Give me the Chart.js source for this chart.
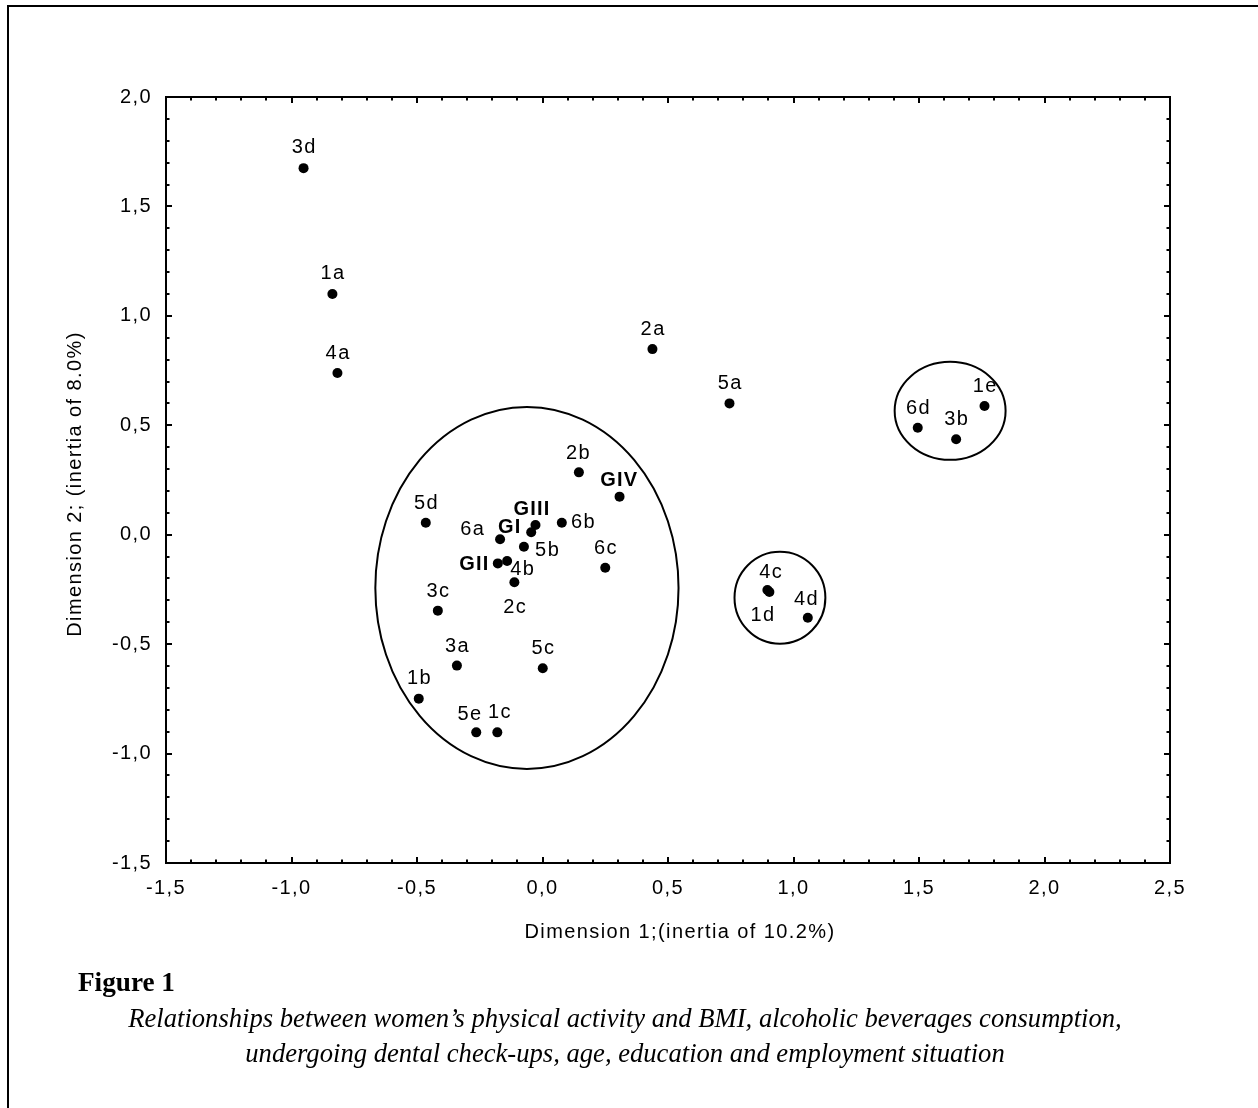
<!DOCTYPE html>
<html>
<head>
<meta charset="utf-8">
<script src="https://cdn.jsdelivr.net/npm/chart.js@4.4.1/dist/chart.umd.min.js"></script>
<style>
html,body{margin:0;padding:0;background:#fff;}
body{width:1258px;height:1108px;position:relative;overflow:hidden;}
#frame{position:absolute;left:7px;top:5px;width:1300px;height:1200px;border-left:2px solid #000;border-top:2px solid #000;box-sizing:border-box;}
#c{position:absolute;left:0;top:0;}
.txt{position:absolute;white-space:nowrap;line-height:1;color:#000;font-family:"Liberation Serif","Times New Roman",serif;}
#figTitle{font-weight:bold;}
.capLine{font-style:italic;}
</style>
</head>
<body>
<div id="frame"></div>
<canvas id="c" width="1258" height="1108"></canvas>
<div id="figTitle" class="txt">Figure 1</div>
<div id="cap1" class="txt capLine">Relationships between women’s physical activity and BMI, alcoholic beverages consumption,</div>
<div id="cap2" class="txt capLine">undergoing dental check-ups, age, education and employment situation</div>
<script>
// ---------------- DATA ----------------
const pointNames = ['3d','1a','4a','2a','5a','6d','3b','1e','4c','1d','4d','2b','GIV','5d','GIII','GI','6b','6a','5b','GII','4b','2c','6c','3c','3a','5c','1b','5e','1c'];
const dim1 = [-0.952,-0.837,-0.817,0.438,0.745,1.495,1.648,1.761,0.896,0.904,1.057,0.145,0.307,-0.465,-0.028,-0.045,0.077,-0.169,-0.074,-0.178,-0.141,-0.112,0.250,-0.417,-0.341,0.001,-0.493,-0.264,-0.180];
const dim2 = [1.675,1.100,0.739,0.848,0.600,0.489,0.436,0.588,-0.253,-0.262,-0.379,0.285,0.174,0.055,0.044,0.011,0.055,-0.021,-0.055,-0.131,-0.120,-0.217,-0.151,-0.347,-0.598,-0.610,-0.749,-0.903,-0.903];

const xTicks = [-1.5,-1.0,-0.5,0.0,0.5,1.0,1.5,2.0,2.5];
const yTicks = [-1.5,-1.0,-0.5,0.0,0.5,1.0,1.5,2.0];

// grouping ellipses (data units)
const groupCenterX = [-0.062, 1.624, 0.946];
const groupCenterY = [-0.243, 0.566, -0.288];
const groupRadiusX = [0.604, 0.221, 0.181];
const groupRadiusY = [0.827, 0.224, 0.210];

const xTitle = 'Dimension 1;(inertia of 10.2%)';
const yTitle = 'Dimension 2; (inertia of 8.0%)';

// ---------------- STYLE ----------------
const SANS = '"Liberation Sans", Arial, sans-serif';
const FS = 20, SP = 1.4;
const labelOffsets = {
  _default:[0,-21], '3d':[0,-22], '1a':[0,-22], '2b':[-1,-20], 'GIV':[-1,-18], 'GIII':[-4,-17],
  '6a':[-28,-11], 'GI':[-22,-6], '6b':[21,-2], '5b':[23,2], 'GII':[-24,0], '4b':[15,7],
  '2c':[0,24], '5e':[-7,-19], '1c':[2,-21], '4c':[3,-19], '1d':[-7,22], '4d':[-2,-20], '1b':[0,-22]
};

const fmt = v => (Math.round(v*10)/10).toFixed(1).replace('.', ',');

const decorPlugin = {
  id:'decor',
  beforeDraw(chart){ chart.ctx.letterSpacing = SP + 'px'; },
  beforeDatasetsDraw(chart){
    const ctx = chart.ctx, a = chart.chartArea, xs = chart.scales.x, ys = chart.scales.y;
    ctx.save();
    ctx.strokeStyle = '#000';
    ctx.lineWidth = 2;
    for (let i=0;i<groupCenterX.length;i++){
      const cx = xs.getPixelForValue(groupCenterX[i]);
      const cy = ys.getPixelForValue(groupCenterY[i]);
      const rx = Math.abs(xs.getPixelForValue(groupCenterX[i]+groupRadiusX[i]) - cx);
      const ry = Math.abs(ys.getPixelForValue(groupCenterY[i]+groupRadiusY[i]) - cy);
      ctx.beginPath(); ctx.ellipse(cx, cy, rx, ry, 0, 0, Math.PI*2); ctx.stroke();
    }
    ctx.strokeRect(a.left, a.top, a.right-a.left, a.bottom-a.top);
    const xMin = xs.min, xMax = xs.max, yMin = ys.min, yMax = ys.max;
    const nx = Math.round((xMax-xMin)/0.1), ny = Math.round((yMax-yMin)/0.1);
    ctx.beginPath();
    for (let k=1;k<nx;k++){
      const px = Math.round(xs.getPixelForValue(xMin + k*0.1));
      const L = (k%5===0) ? 6 : 3.5;
      ctx.moveTo(px, a.bottom); ctx.lineTo(px, a.bottom - L);
      ctx.moveTo(px, a.top); ctx.lineTo(px, a.top + L);
    }
    for (let k=1;k<ny;k++){
      const py = Math.round(ys.getPixelForValue(yMin + k*0.1));
      const L = (k%5===0) ? 6 : 3.5;
      ctx.moveTo(a.left, py); ctx.lineTo(a.left + L, py);
      ctx.moveTo(a.right, py); ctx.lineTo(a.right - L, py);
    }
    ctx.stroke();
    ctx.restore();
  },
  afterDatasetsDraw(chart){
    const ctx = chart.ctx;
    const meta = chart.getDatasetMeta(0);
    ctx.save();
    ctx.fillStyle = '#000';
    ctx.textAlign = 'center';
    ctx.textBaseline = 'alphabetic';
    meta.data.forEach((pt, i) => {
      const name = pointNames[i];
      const bold = name[0] === 'G';
      const sp = bold ? 1.2 : SP;
      ctx.font = (bold ? 'bold ' : '') + FS + 'px ' + SANS;
      ctx.letterSpacing = sp + 'px';
      const off = labelOffsets[name] || labelOffsets._default;
      ctx.fillText(name, pt.x + off[0] + sp/2, pt.y + off[1] + 7);
    });
    const a = chart.chartArea;
    ctx.font = FS + 'px ' + SANS;
    ctx.letterSpacing = SP + 'px';
    ctx.fillText(xTitle, (a.left + a.right)/2 + 12, 938);
    ctx.save();
    ctx.translate(81, (a.top + a.bottom)/2 + 4);
    ctx.rotate(-Math.PI/2);
    ctx.fillText(yTitle, 0, 0);
    ctx.restore();
    ctx.restore();
  }
};

new Chart(document.getElementById('c'), {
  type:'scatter',
  data:{
    datasets:[{
      data: dim1.map((x,i)=>({x:x, y:dim2[i]})),
      backgroundColor:'#000',
      borderColor:'#000',
      borderWidth:0,
      pointRadius:5,
      pointHoverRadius:5
    }]
  },
  options:{
    responsive:false,
    devicePixelRatio:1,
    animation:false,
    events:[],
    layout:{padding:{left:0, top:97, right:88, bottom:205}},
    plugins:{legend:{display:false}, tooltip:{enabled:false}},
    scales:{
      x:{
        type:'linear', min:-1.5, max:2.5,
        afterBuildTicks: s => { s.ticks = xTicks.map(v=>({value:v})); },
        afterFit: s => { s.height = 40; },
        grid:{display:false, drawTicks:false},
        border:{display:false},
        ticks:{color:'#000', padding:13, maxRotation:0, autoSkip:false, font:{family:SANS, size:FS}, callback: v => fmt(v)}
      },
      y:{
        type:'linear', min:-1.5, max:2.0,
        afterBuildTicks: s => { s.ticks = yTicks.map(v=>({value:v})); },
        afterFit: s => { s.width = 166; },
        grid:{display:false, drawTicks:false},
        border:{display:false},
        ticks:{color:'#000', padding:14, autoSkip:false, font:{family:SANS, size:FS}, callback: v => fmt(v)}
      }
    }
  },
  plugins:[decorPlugin]
});

// ---------------- caption layout ----------------
(function(){
  const mc = document.createElement('canvas').getContext('2d');
  function fitSize(text, font, target){
    mc.font = font.replace('SIZE','100px');
    return 100 * target / mc.measureText(text).width;
  }
  const serif = '"Liberation Serif", "Times New Roman", serif';
  const ASC = 0.8375;
  const ft = document.getElementById('figTitle');
  const fsT = fitSize('Figure 1', 'bold SIZE ' + serif, 97);
  ft.style.fontSize = fsT + 'px';
  ft.style.left = '78px';
  ft.style.top = (992 - ASC*fsT) + 'px';

  const c1 = document.getElementById('cap1'), c2 = document.getElementById('cap2');
  const fs1 = fitSize(c1.textContent, 'italic SIZE ' + serif, 994);
  c1.style.fontSize = fs1 + 'px'; c2.style.fontSize = fs1 + 'px';
  mc.font = 'italic ' + fs1 + 'px ' + serif;
  const w1 = mc.measureText(c1.textContent).width, w2 = mc.measureText(c2.textContent).width;
  c1.style.left = (625 - w1/2) + 'px';
  c2.style.left = (625 - w2/2) + 'px';
  c1.style.top = (1027 - ASC*fs1) + 'px';
  c2.style.top = (1062 - ASC*fs1) + 'px';
})();
</script>
</body>
</html>
